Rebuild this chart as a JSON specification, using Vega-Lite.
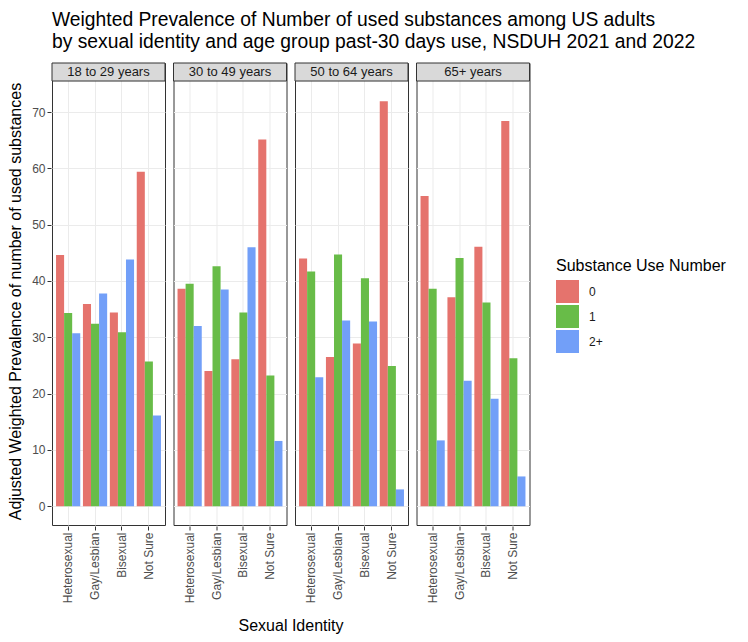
{
  "$schema": "https://vega.github.io/schema/vega-lite/v6.json",
  "padding": {"left": 7, "top": 10, "right": 5, "bottom": 5},
  "background": "white",
  "title": {
    "text": ["Weighted Prevalence of Number of used substances among US adults", "\u00a0by sexual identity and age group past-30 days use, NSDUH 2021 and 2022"],
    "anchor": "start",
    "frame": "group",
    "font": "Liberation Sans",
    "fontSize": 19.3,
    "fontWeight": "normal",
    "lineHeight": 22,
    "color": "black",
    "offset": 10
  },
  "data": {
    "values": [
      {"age": "18 to 29 years", "identity": "Heterosexual", "use": "0", "value": 44.6},
      {"age": "18 to 29 years", "identity": "Heterosexual", "use": "1", "value": 34.3},
      {"age": "18 to 29 years", "identity": "Heterosexual", "use": "2+", "value": 30.7},
      {"age": "18 to 29 years", "identity": "Gay/Lesbian", "use": "0", "value": 35.9},
      {"age": "18 to 29 years", "identity": "Gay/Lesbian", "use": "1", "value": 32.4},
      {"age": "18 to 29 years", "identity": "Gay/Lesbian", "use": "2+", "value": 37.8},
      {"age": "18 to 29 years", "identity": "Bisexual", "use": "0", "value": 34.4},
      {"age": "18 to 29 years", "identity": "Bisexual", "use": "1", "value": 30.9},
      {"age": "18 to 29 years", "identity": "Bisexual", "use": "2+", "value": 43.8},
      {"age": "18 to 29 years", "identity": "Not Sure", "use": "0", "value": 59.4},
      {"age": "18 to 29 years", "identity": "Not Sure", "use": "1", "value": 25.7},
      {"age": "18 to 29 years", "identity": "Not Sure", "use": "2+", "value": 16.1},
      {"age": "30 to 49 years", "identity": "Heterosexual", "use": "0", "value": 38.6},
      {"age": "30 to 49 years", "identity": "Heterosexual", "use": "1", "value": 39.5},
      {"age": "30 to 49 years", "identity": "Heterosexual", "use": "2+", "value": 32.0},
      {"age": "30 to 49 years", "identity": "Gay/Lesbian", "use": "0", "value": 24.0},
      {"age": "30 to 49 years", "identity": "Gay/Lesbian", "use": "1", "value": 42.6},
      {"age": "30 to 49 years", "identity": "Gay/Lesbian", "use": "2+", "value": 38.5},
      {"age": "30 to 49 years", "identity": "Bisexual", "use": "0", "value": 26.1},
      {"age": "30 to 49 years", "identity": "Bisexual", "use": "1", "value": 34.4},
      {"age": "30 to 49 years", "identity": "Bisexual", "use": "2+", "value": 46.0},
      {"age": "30 to 49 years", "identity": "Not Sure", "use": "0", "value": 65.1},
      {"age": "30 to 49 years", "identity": "Not Sure", "use": "1", "value": 23.2},
      {"age": "30 to 49 years", "identity": "Not Sure", "use": "2+", "value": 11.6},
      {"age": "50 to 64 years", "identity": "Heterosexual", "use": "0", "value": 44.0},
      {"age": "50 to 64 years", "identity": "Heterosexual", "use": "1", "value": 41.7},
      {"age": "50 to 64 years", "identity": "Heterosexual", "use": "2+", "value": 22.9},
      {"age": "50 to 64 years", "identity": "Gay/Lesbian", "use": "0", "value": 26.5},
      {"age": "50 to 64 years", "identity": "Gay/Lesbian", "use": "1", "value": 44.7},
      {"age": "50 to 64 years", "identity": "Gay/Lesbian", "use": "2+", "value": 33.0},
      {"age": "50 to 64 years", "identity": "Bisexual", "use": "0", "value": 28.9},
      {"age": "50 to 64 years", "identity": "Bisexual", "use": "1", "value": 40.5},
      {"age": "50 to 64 years", "identity": "Bisexual", "use": "2+", "value": 32.8},
      {"age": "50 to 64 years", "identity": "Not Sure", "use": "0", "value": 71.9},
      {"age": "50 to 64 years", "identity": "Not Sure", "use": "1", "value": 24.9},
      {"age": "50 to 64 years", "identity": "Not Sure", "use": "2+", "value": 3.0},
      {"age": "65+ years", "identity": "Heterosexual", "use": "0", "value": 55.1},
      {"age": "65+ years", "identity": "Heterosexual", "use": "1", "value": 38.6},
      {"age": "65+ years", "identity": "Heterosexual", "use": "2+", "value": 11.7},
      {"age": "65+ years", "identity": "Gay/Lesbian", "use": "0", "value": 37.1},
      {"age": "65+ years", "identity": "Gay/Lesbian", "use": "1", "value": 44.1},
      {"age": "65+ years", "identity": "Gay/Lesbian", "use": "2+", "value": 22.3},
      {"age": "65+ years", "identity": "Bisexual", "use": "0", "value": 46.1},
      {"age": "65+ years", "identity": "Bisexual", "use": "1", "value": 36.2},
      {"age": "65+ years", "identity": "Bisexual", "use": "2+", "value": 19.1},
      {"age": "65+ years", "identity": "Not Sure", "use": "0", "value": 68.4},
      {"age": "65+ years", "identity": "Not Sure", "use": "1", "value": 26.3},
      {"age": "65+ years", "identity": "Not Sure", "use": "2+", "value": 5.3}
    ]
  },
  "facet": {
    "column": {
      "field": "age",
      "type": "nominal",
      "sort": ["18 to 29 years", "30 to 49 years", "50 to 64 years", "65+ years"],
      "header": {
        "labels": false,
        "title": "Sexual Identity",
        "titleOrient": "bottom",
        "titleFont": "Liberation Sans",
        "titleFontSize": 16,
        "titleFontWeight": "normal",
        "titleColor": "black",
        "titlePadding": 5
      }
    }
  },
  "spacing": 6.5,
  "spec": {
    "width": 113,
    "height": 462,
    "layer": [
      {
        "mark": {"type": "bar"},
        "encoding": {
          "x": {
            "field": "identity",
            "type": "nominal",
            "sort": ["Heterosexual", "Gay/Lesbian", "Bisexual", "Not Sure"],
            "scale": {"paddingInner": 0.1, "paddingOuter": 0.15},
            "axis": {
              "title": null,
              "bandPosition": 0.5,
              "labelAngle": -90,
              "domain": false,
              "tickColor": "#333333",
              "tickSize": 4,
              "labelPadding": 2,
              "labelFont": "Liberation Sans",
              "labelFontSize": 12,
              "labelColor": "#4d4d4d",
              "grid": true,
              "gridColor": "#ebebeb",
              "gridWidth": 1
            }
          },
          "xOffset": {
            "field": "use",
            "type": "nominal",
            "sort": ["0", "1", "2+"],
            "scale": {"paddingInner": 0, "paddingOuter": 0}
          },
          "y": {
            "field": "value",
            "type": "quantitative",
            "scale": {"domain": [-3.32, 78.7], "nice": false},
            "axis": {
              "title": "Adjusted Weighted Prevalence of number of used substances",
              "titleFont": "Liberation Sans",
              "titleFontSize": 16,
              "titleFontWeight": "normal",
              "titleColor": "black",
              "titlePadding": 8,
              "titleY": 238,
              "values": [0, 5, 10, 15, 20, 25, 30, 35, 40, 45, 50, 55, 60, 65, 70],
              "labelExpr": "datum.value % 10 === 0 ? datum.label : ''",
              "domain": false,
              "tickColor": "#333333",
              "tickSize": 4,
              "tickOpacity": {"condition": {"test": "datum.value % 10 === 0", "value": 1}, "value": 0},
              "labelPadding": 2,
              "labelFont": "Liberation Sans",
              "labelFontSize": 12,
              "labelColor": "#4d4d4d",
              "grid": true,
              "gridColor": "#ebebeb",
              "gridWidth": {"condition": {"test": "datum.value % 10 === 0", "value": 1}, "value": 0.6}
            }
          },
          "color": {
            "field": "use",
            "type": "nominal",
            "sort": ["0", "1", "2+"],
            "scale": {"domain": ["0", "1", "2+"], "range": ["#e5736d", "#68bc48", "#729ff8"]},
            "legend": {
              "title": "Substance Use Number",
              "orient": "none",
              "legendX": 504,
              "legendY": 195,
              "titleFont": "Liberation Sans",
              "titleFontSize": 16,
              "titleFontWeight": "normal",
              "titleColor": "black",
              "titlePadding": 6,
              "labelFont": "Liberation Sans",
              "labelFontSize": 12,
              "labelColor": "#1a1a1a",
              "labelOffset": 10,
              "symbolType": "square",
              "symbolSize": 529,
              "symbolStrokeWidth": 0,
              "symbolOpacity": 1,
              "rowPadding": 2
            }
          }
        }
      },
      {
        "transform": [{"filter": "datum.identity === 'Heterosexual' && datum.use === '0'"}],
        "mark": {"type": "rect", "fill": "#d9d9d9", "stroke": "#333333", "strokeWidth": 1},
        "encoding": {
          "y": {"datum": 75.5, "type": "quantitative"},
          "y2": {"datum": 78.7}
        }
      },
      {
        "transform": [{"filter": "datum.identity === 'Heterosexual' && datum.use === '0'"}],
        "mark": {"type": "text", "font": "Liberation Sans", "fontSize": 13, "color": "#1a1a1a", "baseline": "middle"},
        "encoding": {
          "y": {"datum": 77.1, "type": "quantitative"},
          "text": {"field": "age", "type": "nominal"}
        }
      }
    ]
  },
  "config": {
    "view": {"stroke": "#333333", "strokeWidth": 1, "fill": "white"},
    "font": "Liberation Sans"
  }
}
